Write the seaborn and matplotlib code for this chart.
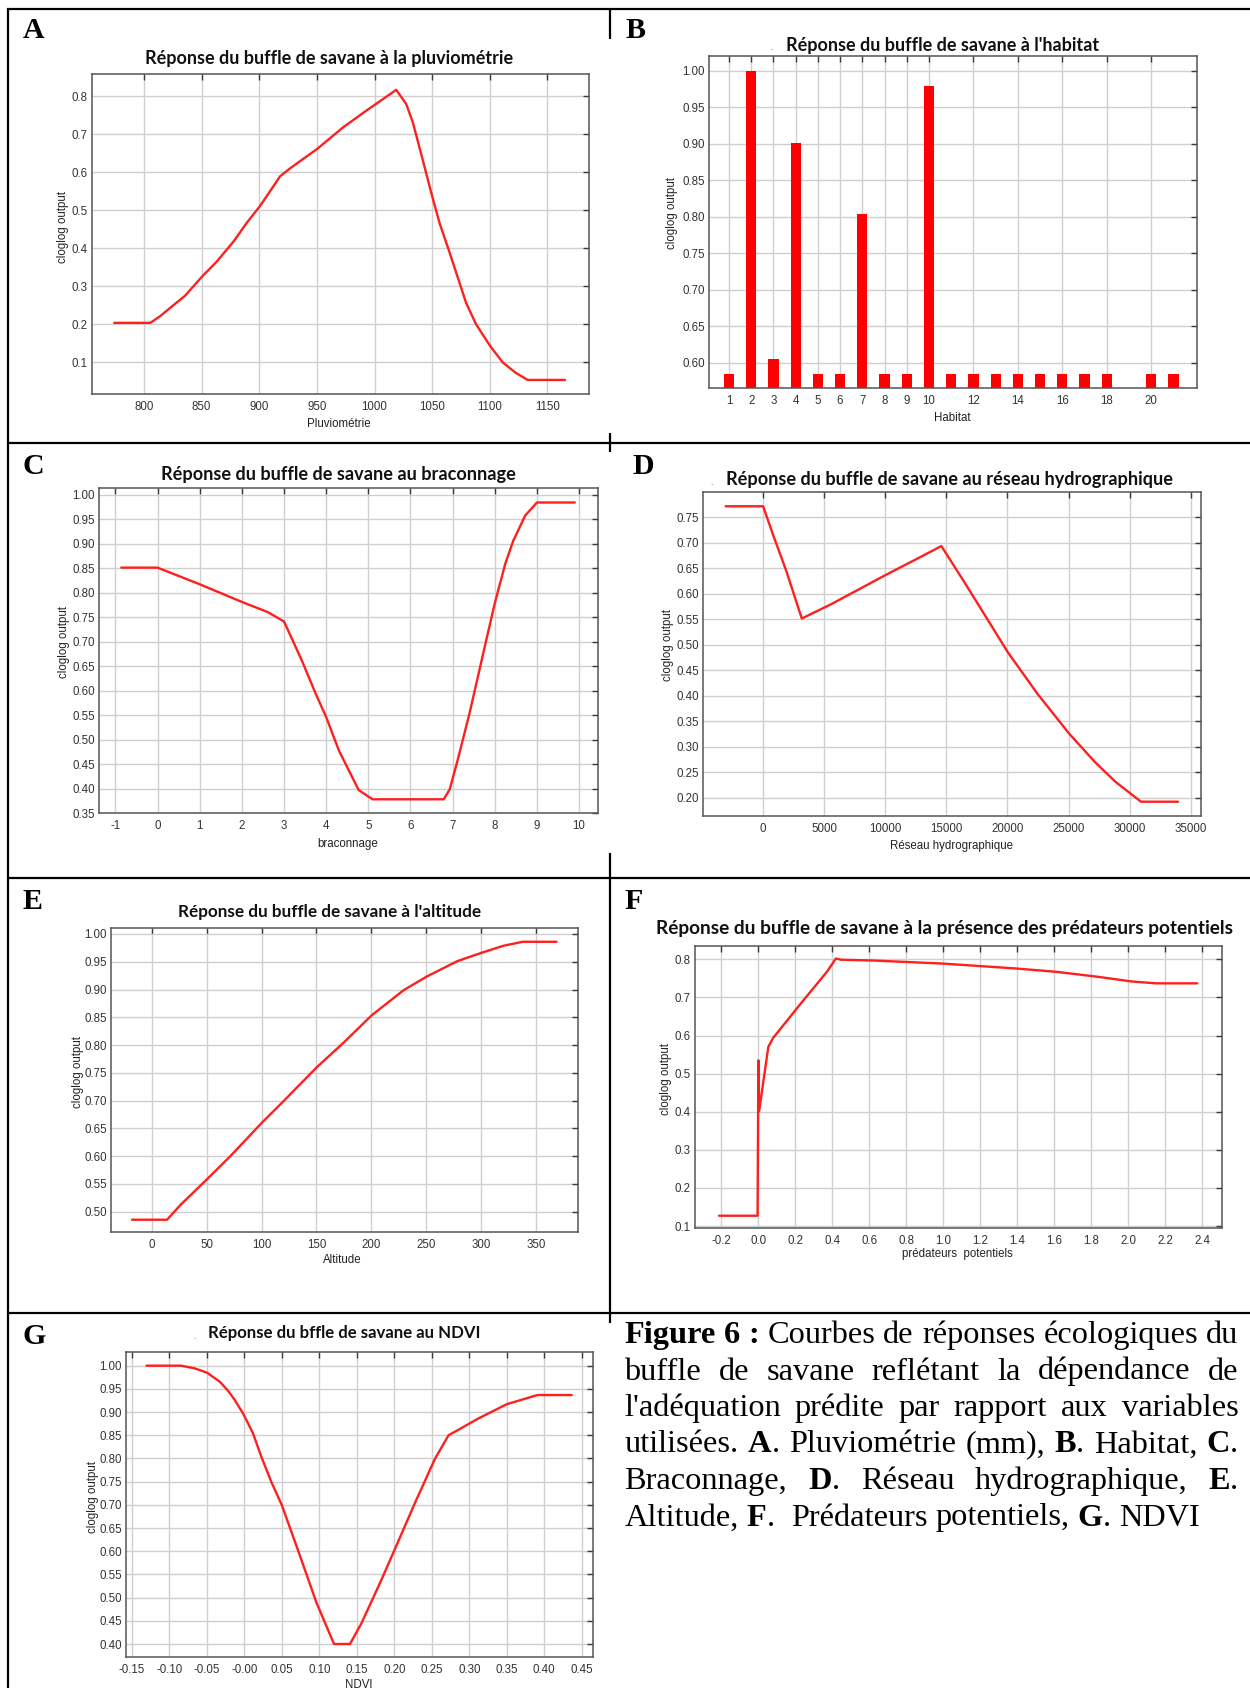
import matplotlib
matplotlib.use("Agg")
import matplotlib.pyplot as plt
import seaborn as sns
from matplotlib.lines import Line2D

# ---------------- data ----------------
pluvio_x = [774.3, 805.5, 814.1, 822.8, 835.8, 850.5, 863.2, 877.6, 889.2, 900.4, 909.4, 918, 926.7,
            950.6, 972.8, 993, 1007.3, 1018.8, 1027.5, 1033.2, 1041.9, 1050, 1056.3, 1065, 1079.4,
            1088.1, 1100.2, 1111.2, 1122.7, 1132.8, 1165.1]
pluvio_y = [0.204, 0.204, 0.2217, 0.2435, 0.2757, 0.326, 0.3652, 0.4174, 0.467, 0.510, 0.550, 0.589, 0.610,
            0.662, 0.718, 0.762, 0.792, 0.8165, 0.779, 0.731, 0.631, 0.5365, 0.467, 0.3896, 0.2565,
            0.200, 0.1435, 0.100, 0.0722, 0.054, 0.054]

habitat_cats = [1, 2, 3, 4, 5, 6, 7, 8, 9, 10, 11, 12, 13, 14, 15, 16, 17, 18, 20, 21]
habitat_vals = [0.585, 1.0, 0.605, 0.901, 0.585, 0.585, 0.803, 0.585, 0.585, 0.979,
                0.585, 0.585, 0.585, 0.585, 0.585, 0.585, 0.585, 0.585, 0.585, 0.585]

bracon_x = [-0.86, 0, 1, 2, 2.62, 3, 3.42, 3.75, 4, 4.3, 4.77, 5.1, 6.79, 6.93, 7.12, 7.4,
            7.78, 8, 8.25, 8.44, 8.72, 9.0, 9.9]
bracon_y = [0.851, 0.851, 0.817, 0.781, 0.76, 0.741, 0.662, 0.594, 0.546, 0.478, 0.397, 0.378,
            0.378, 0.398, 0.458, 0.553, 0.696, 0.778, 0.859, 0.906, 0.957, 0.984, 0.984]

hydro_x = [-3070, 0, 876, 1887, 3167, 5640, 10000, 12670, 14590, 16375, 18400, 20000, 22440,
           25030, 27150, 28840, 30020, 30930, 33960]
hydro_y = [0.771, 0.771, 0.711, 0.645, 0.551, 0.580, 0.636, 0.669, 0.693, 0.626, 0.548, 0.486,
           0.404, 0.326, 0.270, 0.231, 0.209, 0.192, 0.192]

alt_x = [-17.9, 14, 26.1, 50, 71.6, 100.2, 120.2, 150, 174.9, 200.3, 229.4, 250, 278, 300.4,
         320.5, 337.8, 368.5]
alt_y = [0.4856, 0.4856, 0.512, 0.5578, 0.600, 0.660, 0.6994, 0.7596, 0.8048, 0.8537, 0.899,
         0.923, 0.951, 0.9663, 0.979, 0.986, 0.986]

pred_x = [-0.2134, -0.0045, 0.0, 0.004, 0.0535, 0.080, 0.236, 0.370, 0.419, 0.448, 0.615, 0.993,
          1.394, 1.617, 1.840, 2.018, 2.151, 2.374]
pred_y = [0.1272, 0.1272, 0.535, 0.402, 0.570, 0.594, 0.688, 0.767, 0.802, 0.799, 0.797, 0.789,
          0.776, 0.767, 0.754, 0.742, 0.737, 0.737]

ndvi_x = [-0.1306, -0.0845, -0.0662, -0.05, -0.0329, -0.0218, -0.0129, -0.0018, 0.0115, 0.0226,
          0.036, 0.05, 0.0715, 0.0959, 0.1195, 0.1408, 0.1559, 0.1825, 0.20, 0.228, 0.2544,
          0.2723, 0.2856, 0.3122, 0.35, 0.3909, 0.4366]
ndvi_y = [1.0, 1.0, 0.9942, 0.985, 0.9655, 0.946, 0.926, 0.897, 0.854, 0.8035, 0.749, 0.699,
          0.602, 0.490, 0.400, 0.400, 0.444, 0.5375, 0.602, 0.706, 0.800, 0.850, 0.862, 0.8863,
          0.917, 0.9367, 0.9367]

# tick values / labels
A_xt = [800, 850, 900, 950, 1000, 1050, 1100, 1150]
A_yt = [0.1, 0.2, 0.3, 0.4, 0.5, 0.6, 0.7, 0.8]
B_xt = [1, 2, 3, 4, 5, 6, 7, 8, 9, 10, 12, 14, 16, 18, 20]
B_yt = [0.60, 0.65, 0.70, 0.75, 0.80, 0.85, 0.90, 0.95, 1.00]
C_xt = [-1, 0, 1, 2, 3, 4, 5, 6, 7, 8, 9, 10]
C_yt = [0.35, 0.40, 0.45, 0.50, 0.55, 0.60, 0.65, 0.70, 0.75, 0.80, 0.85, 0.90, 0.95, 1.00]
D_xt = [0, 5000, 10000, 15000, 20000, 25000, 30000, 35000]
D_yt = [0.20, 0.25, 0.30, 0.35, 0.40, 0.45, 0.50, 0.55, 0.60, 0.65, 0.70, 0.75]
E_xt = [0, 50, 100, 150, 200, 250, 300, 350]
E_yt = [0.50, 0.55, 0.60, 0.65, 0.70, 0.75, 0.80, 0.85, 0.90, 0.95, 1.00]
F_xt = [-0.2, 0.0, 0.2, 0.4, 0.6, 0.8, 1.0, 1.2, 1.4, 1.6, 1.8, 2.0, 2.2, 2.4]
F_yt = [0.1, 0.2, 0.3, 0.4, 0.5, 0.6, 0.7, 0.8]
G_xt = [-0.15, -0.10, -0.05, 0.0, 0.05, 0.10, 0.15, 0.20, 0.25, 0.30, 0.35, 0.40, 0.45]
G_xl = ["-0.15", "-0.10", "-0.05", "-0.00", "0.05", "0.10", "0.15", "0.20", "0.25", "0.30",
        "0.35", "0.40", "0.45"]
G_yt = [0.40, 0.45, 0.50, 0.55, 0.60, 0.65, 0.70, 0.75, 0.80, 0.85, 0.90, 0.95, 1.00]

# ---------------- setup ----------------
W, H, DPI = 1250, 1688, 100
sns.set_theme(style="white")
plt.rcParams['font.family'] = ['Liberation Sans', 'DejaVu Sans']

fig = plt.figure(figsize=(W / DPI, H / DPI), dpi=DPI)
fig.patch.set_facecolor('white')
renderer = fig.canvas.get_renderer()


def rect(x0, y0, x1, y1):
    return [x0 / W, 1 - y1 / H, (x1 - x0) / W, (y1 - y0) / H]


def fy(y):
    return 1 - y / H


RED = '#ff1f1f'
LW = 1.7


def style_ax(ax, xlim, ylim, xt, xl, yt, yl):
    ax.set_xlim(*xlim)
    ax.set_ylim(*ylim)
    ax.set_xticks(xt)
    ax.set_xticklabels(xl)
    ax.set_yticks(yt)
    ax.set_yticklabels(yl)
    ax.set_xlabel('')
    ax.set_ylabel('')
    ax.grid(True, color='#cfcfcf', lw=1.0)
    ax.set_axisbelow(True)
    ax.tick_params(direction='in', top=True, right=True, length=4, width=1.0,
                   color='#3a3a3a', labelsize=8.3, labelcolor='#333333')
    ax.tick_params(axis='x', pad=5)
    ax.tick_params(axis='y', pad=3)
    for s in ax.spines.values():
        s.set_visible(True)
        s.set_color('#555555')
        s.set_linewidth(1.1)
    ax.set_facecolor('white')


def fit_text(txt, target_w):
    w = txt.get_window_extent(renderer).width
    txt.set_fontsize(txt.get_fontsize() * target_w / w)


def title(cx, yb, text, width):
    t = fig.text(cx / W, fy(yb), text, ha='center', va='baseline', fontsize=12,
                 family=['Lato', 'DejaVu Sans'], weight='bold', color='#111111')
    fit_text(t, width)


def ylab(x, y, text='cloglog output'):
    fig.text(x / W, fy(y), text, rotation=90, ha='center', va='center', fontsize=8.3, color='#222222')


def xlab(x, y, text):
    fig.text(x / W, fy(y), text, ha='center', va='center', fontsize=8.3, color='#222222')


def letter(x, yb, s):
    fig.text(x / W, fy(yb), s, ha='center', va='baseline', fontsize=21.5,
             family=['Liberation Serif', 'DejaVu Serif'], weight='bold', color='black')


def fmt(vals, f):
    return [f.format(v) for v in vals]


# ---------------- panel A ----------------
axA = fig.add_axes(rect(91.5, 74, 589, 394))
sns.lineplot(x=pluvio_x, y=pluvio_y, ax=axA, color=RED, lw=LW, sort=False, estimator=None)
style_ax(axA, (754.5, 1186), (0.017, 0.858), A_xt, fmt(A_xt, '{:d}'), A_yt, fmt(A_yt, '{:.1f}'))
title(329, 64, "Réponse du buffle de savane à la pluviométrie", 365)
ylab(63, 227)
xlab(339, 424, "Pluviométrie")
letter(33.5, 38.3, 'A')

# ---------------- panel B ----------------
axB = fig.add_axes(rect(709, 56, 1197, 388))
sns.barplot(x=habitat_cats, y=habitat_vals, ax=axB, native_scale=True, color='#ff0000',
            saturation=1, width=0.46, linewidth=0, errorbar=None)
style_ax(axB, (0.1, 22.06), (0.5653, 1.0201), B_xt, fmt(B_xt, '{:d}'), B_yt, fmt(B_yt, '{:.2f}'))
title(943, 50.7, "Réponse du buffle de savane à l'habitat", 311)
fig.text(771 / W, fy(50), '.', ha='center', va='baseline', fontsize=6, color='#555555')
ylab(671.6, 213)
xlab(952, 418, "Habitat")
letter(635, 38.3, 'B')

# ---------------- panel C ----------------
axC = fig.add_axes(rect(99, 488, 598, 813))
sns.lineplot(x=bracon_x, y=bracon_y, ax=axC, color=RED, lw=LW, sort=False, estimator=None)
style_ax(axC, (-1.39, 10.45), (0.3505, 1.0136), C_xt, fmt(C_xt, '{:d}'), C_yt, fmt(C_yt, '{:.2f}'))
title(338, 480, "Réponse du buffle de savane au braconnage", 353)
ylab(64.5, 642)
xlab(348, 844, "braconnage")
letter(33, 474.5, 'C')

# ---------------- panel D ----------------
axD = fig.add_axes(rect(703, 492, 1201, 816))
sns.lineplot(x=hydro_x, y=hydro_y, ax=axD, color=RED, lw=LW, sort=False, estimator=None)
style_ax(axD, (-4920, 35840), (0.164, 0.799), D_xt, fmt(D_xt, '{:d}'), D_yt, fmt(D_yt, '{:.2f}'))
title(949, 485, "Réponse du buffle de savane au réseau hydrographique", 445)
fig.text(711 / W, fy(485), '.', ha='center', va='baseline', fontsize=6, color='#555555')
ylab(668, 645)
xlab(951, 846, "Réseau hydrographique")
letter(643.5, 474, 'D')

# ---------------- panel E ----------------
axE = fig.add_axes(rect(111, 928, 578, 1232))
sns.lineplot(x=alt_x, y=alt_y, ax=axE, color=RED, lw=LW, sort=False, estimator=None)
style_ax(axE, (-37, 388), (0.4635, 1.0108), E_xt, fmt(E_xt, '{:d}'), E_yt, fmt(E_yt, '{:.2f}'))
title(330, 916.7, "Réponse du buffle de savane à l'altitude", 301)
ylab(78, 1072)
xlab(342, 1260, "Altitude")
letter(32.5, 909.3, 'E')

# ---------------- panel F ----------------
axF = fig.add_axes(rect(695, 946, 1222, 1228))
sns.lineplot(x=pred_x, y=pred_y, ax=axF, color=RED, lw=LW, sort=False, estimator=None)
style_ax(axF, (-0.343, 2.508), (0.095, 0.835), F_xt, fmt(F_xt, '{:.1f}'), F_yt, fmt(F_yt, '{:.1f}'))
title(944.6, 934.3, "Réponse du buffle de savane à la présence des prédateurs potentiels", 574)
ylab(666, 1079)
xlab(957.6, 1254, "prédateurs  potentiels")
letter(634, 909.3, 'F')

# ---------------- panel G ----------------
axG = fig.add_axes(rect(126, 1352, 593, 1657))
sns.lineplot(x=ndvi_x, y=ndvi_y, ax=axG, color=RED, lw=LW, sort=False, estimator=None)
style_ax(axG, (-0.158, 0.465), (0.372, 1.0295), G_xt, G_xl, G_yt, fmt(G_yt, '{:.2f}'))
title(344, 1337.7, "Réponse du bffle de savane au NDVI", 272)
fig.text(194 / W, fy(1339), '.', ha='center', va='baseline', fontsize=6, color='#555555')
ylab(93, 1497)
xlab(358.6, 1685, "NDVI")
letter(34.5, 1344.3, 'G')

# ---------------- table borders ----------------
def seg(x0, y0, x1, y1):
    fig.add_artist(Line2D([x0 / W, x1 / W], [fy(y0), fy(y1)], transform=fig.transFigure,
                          color='black', lw=1.6, solid_capstyle='butt'))


seg(7, 8.5, 1250, 8.5)
seg(8, 7.5, 8, 1688)
for yy in (443, 877.5, 1313):
    seg(8, yy, 1250, yy)
for (a, b) in ((8, 39), (433, 452), (853, 1323)):
    seg(610, a, 610, b)

# ---------------- caption (justified) ----------------
cap_lines = [
    [[("Figure", True)], [("6", True)], [(":", True)], [("Courbes", False)], [("de", False)],
     [("réponses", False)], [("écologiques", False)], [("du", False)]],
    [[("buffle", False)], [("de", False)], [("savane", False)], [("reflétant", False)],
     [("la", False)], [("dépendance", False)], [("de", False)]],
    [[("l'adéquation", False)], [("prédite", False)], [("par", False)], [("rapport", False)],
     [("aux", False)], [("variables", False)]],
    [[("utilisées.", False)], [("A", True), (".", False)], [("Pluviométrie", False)],
     [("(mm),", False)], [("B", True), (".", False)], [("Habitat,", False)], [("C", True), (".", False)]],
    [[("Braconnage,", False)], [("D", True), (".", False)], [("Réseau", False)],
     [("hydrographique,", False)], [("E", True), (".", False)]],
    [[("Altitude,", False)], [("F", True), (".", False)], [("", False)], [("Prédateurs", False)],
     [("potentiels,", False)], [("G", True), (".", False)], [("NDVI", False)]],
]
cap_base = [1343, 1379.5, 1416, 1452.5, 1489, 1525.5]
CAP_X0, CAP_X1 = 624.3, 1238.5
SERIF = ['Liberation Serif', 'DejaVu Serif']


def tw(s, bold, size):
    if s == "":
        return 0.0
    t = fig.text(0, 0, s, fontsize=size, family=SERIF, weight='bold' if bold else 'normal')
    w = t.get_window_extent(renderer).width
    t.remove()
    return w


def space_w(size):
    return tw("a a", False, size) - tw("aa", False, size)


def word_w(word, size):
    return sum(tw(s, b, size) for s, b in word)


base_size = 20.0
last = cap_lines[-1]
nat = sum(word_w(w, base_size) for w in last) + space_w(base_size) * (len(last) - 2)
cap_size = base_size * 567.0 / nat

for li, (words, yb) in enumerate(zip(cap_lines, cap_base)):
    widths = [word_w(w, cap_size) for w in words]
    if li < len(cap_lines) - 1:
        gap = (CAP_X1 - CAP_X0 - sum(widths)) / (len(words) - 1)
    else:
        gap = space_w(cap_size)
    x = CAP_X0
    for w, wd in zip(words, widths):
        xx = x
        for s, b in w:
            if s:
                fig.text(xx / W, fy(yb), s, fontsize=cap_size, family=SERIF,
                         weight='bold' if b else 'normal', ha='left', va='baseline', color='black')
                xx += tw(s, b, cap_size)
        x += wd + gap

fig.savefig("out.png", dpi=DPI, facecolor='white')
